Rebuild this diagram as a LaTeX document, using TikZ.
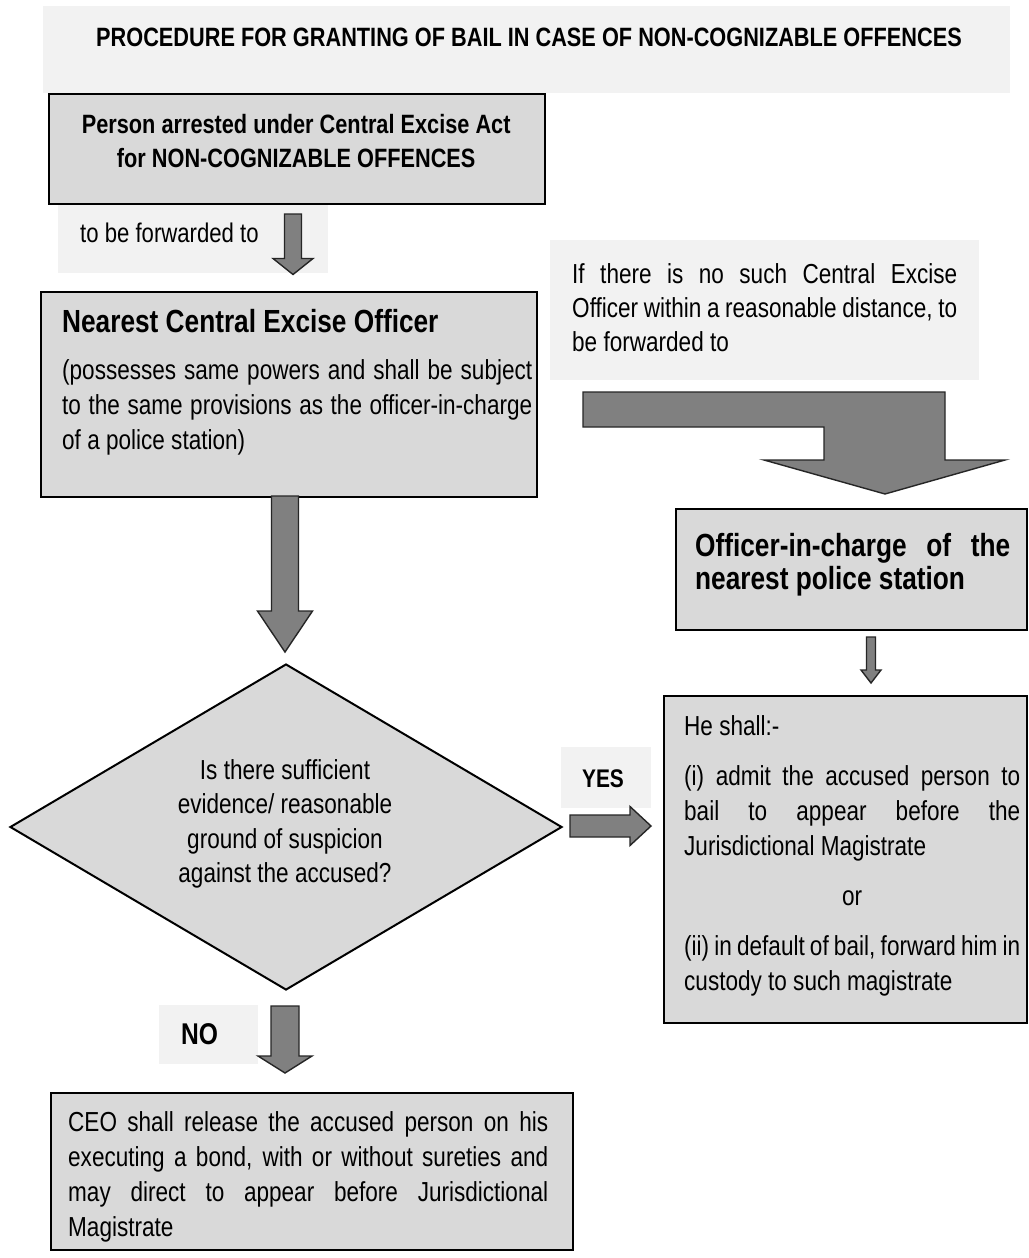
\documentclass[tikz,border=0pt]{standalone}
\usepackage{fontspec}
\setmainfont{Liberation Sans}[FakeStretch=0.82]
\usetikzlibrary{shapes.geometric,calc}

\definecolor{bandgray}{HTML}{F2F2F2}
\definecolor{boxgray}{HTML}{D9D9D9}
\definecolor{arrowgray}{HTML}{808080}

% one line of a text block: justified, left or centred
\newcommand\jline[1]{\makebox[\hsize][s]{#1}\par}
\newcommand\lline[1]{\makebox[\hsize][l]{#1}\par}
\newcommand\ctrline[1]{\makebox[\hsize][c]{#1}\par}
% a block of lines whose first baseline is the block's baseline
\newcommand\tblock[3]{\vtop{\hsize=#1\parindent=0pt\parskip=0pt
  \baselineskip=#2\lineskiplimit=-100pt\lineskip=0pt #3}}

\tikzset{
  band/.style={fill=bandgray, inner sep=0pt, anchor=north west},
  box/.style={draw=black, line width=2pt, fill=boxgray, inner sep=0pt, anchor=north west},
  txt/.style={inner sep=0pt, anchor=base west},
  body/.style={font=\fontsize{27.5pt}{35pt}\selectfont},
  head/.style={font=\fontsize{32pt}{35pt}\selectfont\bfseries},
  arrowshape/.style={draw=black!85, line width=1.4pt, fill=arrowgray, line join=miter},
  downarrow/.style n args={3}{arrowshape, to path={
    let \p1=(\tikztostart), \p2=(\tikztotarget) in
    (\x1-#1,\y1) -- (\x1-#1,\y2+#3) -- (\x1-#2,\y2+#3) -- (\x1,\y2)
    -- (\x1+#2,\y2+#3) -- (\x1+#1,\y2+#3) -- (\x1+#1,\y1) -- cycle}},
  rightarrow/.style n args={3}{arrowshape, to path={
    let \p1=(\tikztostart), \p2=(\tikztotarget) in
    (\x1,\y1+#1) -- (\x2-#3,\y1+#1) -- (\x2-#3,\y1+#2) -- (\x2,\y1)
    -- (\x2-#3,\y1-#2) -- (\x2-#3,\y1-#1) -- (\x1,\y1-#1) -- cycle}}
}

\begin{document}
\begin{tikzpicture}[x=1pt, y=-1pt]
\useasboundingbox[fill=white] (0,0) rectangle (1028,1258);

% title band
\node[band, minimum width=967pt, minimum height=87pt] (titleband) at (43,6) {};
\node[inner sep=0pt, anchor=base, font=\fontsize{26.5pt}{30pt}\selectfont\bfseries] (title) at (529,46)
  {PROCEDURE FOR GRANTING OF BAIL IN CASE OF NON-COGNIZABLE OFFENCES};

% arrested person
\node[box, minimum width=496pt, minimum height=110pt] (arrest) at (48,93) {};
\node[txt, font=\fontsize{26.5pt}{30pt}\selectfont\bfseries] (arresttext) at (48,133)
  {\tblock{496pt}{34pt}{\ctrline{Person arrested under Central Excise Act}\ctrline{for NON-COGNIZABLE OFFENCES}}};

% "to be forwarded to"
\node[band, minimum width=270pt, minimum height=68pt] (fwdband) at (58,205) {};
\node[txt, font=\fontsize{27pt}{35pt}\selectfont] (fwdtext) at (80,242) {to be forwarded to};
\coordinate (a1top) at (293,214);
\coordinate (a1tip) at (293,274.5);

% nearest central excise officer
\node[box, minimum width=496pt, minimum height=205pt] (ceo) at (40,291) {};
\node[txt, head] (ceohead) at (62,332) {Nearest Central Excise Officer};
\node[txt, body] (ceobody) at (62,379)
  {\tblock{470pt}{35pt}{%
    \jline{(possesses same powers and shall be subject}%
    \jline{to the same provisions as the officer-in-charge}%
    \lline{of a police station)}}};

% no officer nearby
\node[band, minimum width=429pt, minimum height=140pt] (noband) at (550,240) {};
\node[txt, body] (notext) at (572,283)
  {\tblock{385pt}{34pt}{%
    \jline{If there is no such Central Excise}%
    \jline{Officer within a reasonable distance, to}%
    \lline{be forwarded to}}};
\coordinate (bstart) at (583,409.5);
\coordinate (btip) at (885,494);

% officer-in-charge of police station
\node[box, minimum width=351pt, minimum height=121pt] (police) at (675,508) {};
\node[txt, head] (policetext) at (695,556)
  {\tblock{315pt}{33pt}{%
    \jline{Officer-in-charge of the}%
    \lline{nearest police station}}};
\coordinate (a3top) at (871,637);
\coordinate (a3tip) at (871,683);

% duties of the officer-in-charge
\node[box, minimum width=363pt, minimum height=327pt] (duty) at (663,695) {};
\node[txt, body] (dutytext) at (684,735)
  {\tblock{336pt}{35pt}{%
    \lline{He shall:-}\vskip15pt
    \jline{(i) admit the accused person to}%
    \jline{bail to appear before the}%
    \lline{Jurisdictional Magistrate}\vskip15pt
    \ctrline{or}\vskip15pt
    \jline{(ii) in default of bail, forward him in}%
    \lline{custody to such magistrate}}};

% decision
\node[diamond, draw=black, line width=2pt, fill=boxgray, minimum width=552pt,
  minimum height=326pt, inner sep=0pt, aspect=1.69] (dia) at (286,827) {};
\node[inner sep=0pt, align=center, font=\fontsize{27.5pt}{34.5pt}\selectfont] (question) at (285,824)
  {Is there sufficient\\evidence/ reasonable\\ground of suspicion\\against the accused?};
\coordinate (a2top) at (285,496);
\coordinate (a2tip) at (285,652);

% YES branch
\node[band, minimum width=90pt, minimum height=61pt] (yesband) at (561,747) {};
\node[inner sep=0pt, font=\fontsize{25.5pt}{30pt}\selectfont\bfseries] (yes) at (603,779) {YES};
\coordinate (yesstart) at (570,826);
\coordinate (yestip) at (651,826);

% NO branch
\node[band, minimum width=99pt, minimum height=59pt] (noband2) at (159,1005) {};
\node[inner sep=0pt, anchor=west, font=\fontsize{30pt}{30pt}\selectfont\bfseries] (no) at (181,1034) {NO};
\coordinate (a4top) at (285,1006);
\coordinate (a4tip) at (285,1073);

% release on bond
\node[box, minimum width=522pt, minimum height=157pt] (release) at (50,1092) {};
\node[txt, body] (releasetext) at (68,1131)
  {\tblock{480pt}{35pt}{%
    \jline{CEO shall release the accused person on his}%
    \jline{executing a bond, with or without sureties and}%
    \jline{may direct to appear before Jurisdictional}%
    \lline{Magistrate}}};

% block arrows
\draw[downarrow={8.5pt}{20pt}{16pt}] (a1top) to (a1tip);
\draw[downarrow={13.5pt}{27.5pt}{41pt}] (a2top) to (a2tip);
\draw[downarrow={4.5pt}{10pt}{13pt}] (a3top) to (a3tip);
\draw[downarrow={14pt}{27pt}{17pt}] (a4top) to (a4tip);
\draw[rightarrow={11pt}{19.5pt}{21pt}] (yesstart) to (yestip);
\draw[arrowshape] let \p1=(bstart), \p2=(btip) in
  (\x1,\y1+17.5pt) -- (\x2+60pt,\y1+17.5pt) -- (\x2+60pt,\y2+34pt)
  -- (\x2+120pt,\y2+34pt) -- (\x2,\y2) -- (\x2-121pt,\y2+34pt)
  -- (\x2-61pt,\y2+34pt) -- (\x2-61pt,\y1-17.5pt) -- (\x1,\y1-17.5pt) -- cycle;
\end{tikzpicture}
\end{document}
